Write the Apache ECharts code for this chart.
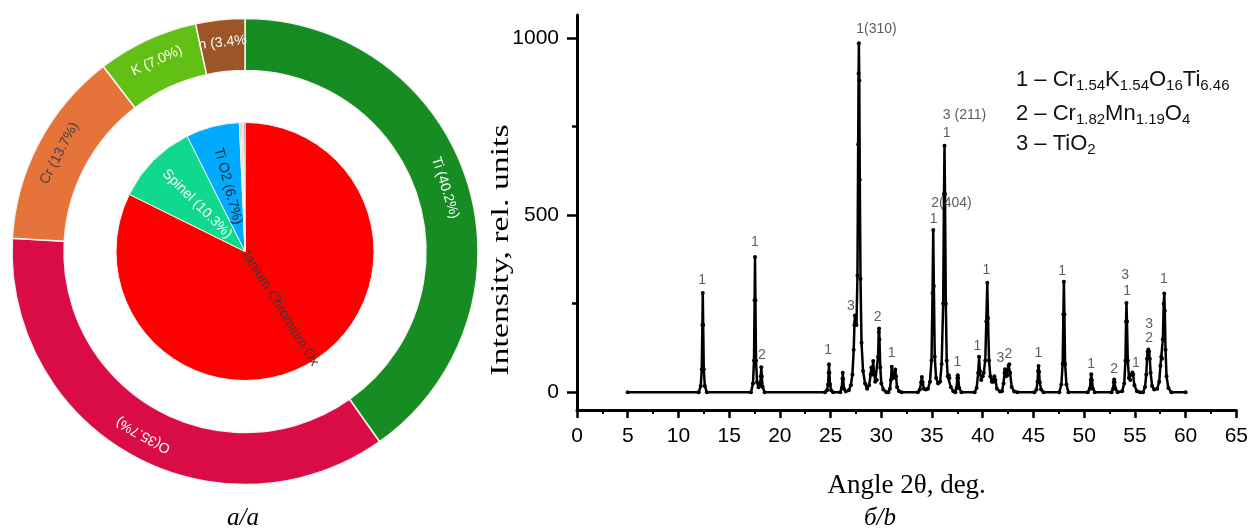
<!DOCTYPE html>
<html><head><meta charset="utf-8">
<script src="https://cdn.jsdelivr.net/npm/echarts@6/dist/echarts.min.js"></script>
<style>html,body{margin:0;padding:0;background:#fff}#c{width:1251px;height:532px}</style>
</head><body><div id="c"></div>
<script>
// ---- panel a: element composition (outer ring) and phase composition (inner pie)
const ringNames  = ['Ti', 'O', 'Cr', 'K', 'Mn'];
const ringValues = [40.2, 35.7, 13.7, 7.0, 3.4];
const ringLabels = ['Ti (40.2%)', 'O(35.7%)', 'Cr (13.7%)', 'K (7.0%)', 'n (3.4%'];
const ringColors = ['#168c22', '#da0c46', '#e5733a', '#62c014', '#9c5526'];
const ringLabelColors = ['#ffffff', '#ffffff', '#444444', '#ffffff', '#ffffff'];

const phaseNames  = ['Titanium Chromium Oxide', 'Spinel', 'TiO2', 'minor a', 'minor b', 'minor c', 'minor d'];
const phaseValues = [82.3, 10.3, 6.7, 0.2, 0.2, 0.15, 0.15];
const phaseLabels = ['tanium Chromium Ox', 'Spinel (10.3%)', 'Ti O2 (6.7%)', '', '', '', ''];
const phaseColors = ['#ff0000', '#10d98f', '#00aaff', '#f0a830', '#c8b070', '#8090b0', '#404870'];
const phaseLabelColors = ['#3a3a3a', '#ffffff', '#262636', '#000', '#000', '#000', '#000'];

// ---- panel b: XRD pattern [2theta, intensity]
const xrdPoints = [
 [5,0],
 [12.0,0],[12.2,18],[12.3,65],[12.36,190],[12.4,280],[12.44,190],[12.5,65],[12.6,18],[12.8,0],
 [17.15,0],[17.35,25],[17.45,90],[17.51,260],[17.55,382],[17.59,260],[17.65,90],[17.75,28],[17.9,14],
 [18.05,20],[18.12,45],[18.17,71],[18.22,45],[18.3,15],[18.5,0],
 [24.45,0],[24.65,6],[24.75,22],[24.81,55],[24.84,79],[24.88,55],[24.95,22],[25.05,6],[25.25,0],
 [25.95,0],[26.1,12],[26.17,38],[26.2,55],[26.24,38],[26.32,10],[26.5,2],
 [26.8,6],[27.0,20],[27.15,50],[27.28,120],[27.35,190],[27.4,217],[27.46,200],[27.55,190],[27.65,330],[27.72,700],[27.76,900],[27.79,985],[27.83,880],[27.88,600],[27.95,320],[28.05,140],[28.2,60],[28.4,25],[28.6,10],
 [28.8,20],[28.95,50],[29.02,70],[29.1,50],[29.2,88],[29.28,55],[29.4,30],[29.55,35],[29.68,100],[29.75,170],[29.78,180],[29.82,150],[29.9,70],[30.0,25],[30.2,8],[30.5,0],
 [30.7,0],[30.85,10],[30.95,35],[31.03,72],[31.1,45],[31.2,40],[31.3,55],[31.38,64],[31.45,45],[31.55,15],[31.75,3],[32.0,0],
 [33.6,0],[33.8,8],[33.93,28],[34.0,43],[34.07,28],[34.2,10],[34.4,8],
 [34.6,10],[34.8,30],[34.95,90],[35.05,280],[35.12,458],[35.18,300],[35.27,100],[35.4,40],[35.6,25],[35.8,30],
 [35.95,80],[36.1,250],[36.18,560],[36.23,696],[36.28,560],[36.36,250],[36.45,90],[36.55,45],[36.65,48],[36.72,40],[36.85,15],[37.1,3],
 [37.3,0],[37.42,12],[37.5,40],[37.54,48],[37.58,40],[37.68,12],[37.9,0],
 [39.2,0],[39.4,12],[39.55,55],[39.64,100],[39.72,60],[39.85,35],[40.0,45],[40.1,55],[40.25,90],[40.35,200],[40.45,309],[40.52,210],[40.62,90],[40.75,45],[40.9,30],[41.05,30],[41.15,45],[41.25,35],[41.4,10],[41.7,2],
 [41.9,3],[42.05,25],[42.15,55],[42.2,65],[42.3,45],[42.42,48],[42.55,75],[42.62,79],[42.7,55],[42.85,15],[43.1,2],[43.4,0],
 [45.1,0],[45.3,8],[45.4,30],[45.46,60],[45.5,74],[45.55,58],[45.62,28],[45.75,8],[46.0,0],
 [47.55,0],[47.75,22],[47.88,80],[47.95,220],[48.0,312],[48.05,220],[48.12,80],[48.25,22],[48.45,0],
 [50.35,0],[50.55,10],[50.65,35],[50.7,51],[50.76,35],[50.86,10],[51.05,0],
 [52.7,0],[52.85,10],[52.92,28],[52.96,36],[53.0,28],[53.08,10],[53.3,0],
 [53.75,3],[53.95,25],[54.07,90],[54.13,200],[54.17,252],[54.22,200],[54.3,90],[54.42,40],[54.55,35],[54.68,50],[54.76,56],[54.82,50],[54.95,20],[55.2,3],[55.5,0],
 [55.8,0],[56.0,15],[56.12,50],[56.2,95],[56.26,115],[56.33,121],[56.4,115],[56.47,95],[56.55,55],[56.7,18],[56.9,8],
 [57.2,10],[57.4,30],[57.52,75],[57.6,100],[57.68,95],[57.76,150],[57.84,250],[57.9,279],[57.95,230],[58.02,120],[58.12,45],[58.3,12],[58.6,0],
 [60,0]
];

// peak annotations (phase index / hkl) placed in data coordinates
const annoAngle     = [12.34, 17.55, 18.24, 24.76, 27.0, 29.65, 31.02, 29.53, 36.92, 35.15, 38.2, 36.43, 37.51, 39.48, 40.36, 41.74, 42.53, 45.48, 47.84, 50.69, 52.95, 54.03, 54.23, 55.11, 56.4, 56.4, 57.87];
const annoIntensity = [317, 424, 106, 120, 244, 213, 110, 1025, 534, 489, 782, 731, 86, 131, 345, 97, 108, 111, 342, 80, 66, 331, 286, 83, 193, 154, 320];
const annoText      = ['1','1','2','1','3','2','1','1(310)','2(404)','1','3 (211)','1','1','1','1','3','2','1','1','1','2','3','1','1','3','2','1'];

const xTicks = {min: 0, max: 65, interval: 5};
const yMajorTicks = [0, 500, 1000];
const yMinorTicks = [250, 750];

const legendLines = [
  '{m|1 – Cr}{s|1.54}{m|K}{s|1.54}{m|O}{s|16}{m|Ti}{s|6.46}',
  '{m|2 – Cr}{s|1.82}{m|Mn}{s|1.19}{m|O}{s|4}',
  '{m|3 – TiO}{s|2}'
];

// label rotations derived from the slice angles (clockwise from top)
function midAngles(vals) {
  const tot = vals.reduce((a, b) => a + b, 0);
  let cum = 0;
  return vals.map(v => { const m = (cum + v / 2) / tot * 360; cum += v; return m; });
}
const ringMid = midAngles(ringValues);
const phaseMid = midAngles(phaseValues);

const SANS = "'Liberation Sans', Arial, sans-serif";
const SERIF = "'Liberation Serif', 'Times New Roman', serif";

const ringData = ringNames.map((n, i) => ({
  name: n, value: ringValues[i],
  itemStyle: {color: ringColors[i]},
  label: {formatter: ringLabels[i], color: ringLabelColors[i], rotate: -ringMid[i]}
}));
const phaseData = phaseNames.map((n, i) => {
  let r = phaseMid[i] - 90;
  if (r > 90) r -= 180;
  return {
    name: n, value: phaseValues[i],
    itemStyle: {color: phaseColors[i]},
    label: {show: phaseLabels[i] !== '', formatter: phaseLabels[i], color: phaseLabelColors[i], rotate: -r}
  };
});

const chart = echarts.init(document.getElementById('c'), null, {renderer: 'canvas'});
chart.setOption({
  animation: false,
  backgroundColor: '#ffffff',
  grid: {left: 577, top: 15, width: 661, height: 395, containLabel: false},
  xAxis: {
    type: 'value', min: xTicks.min, max: xTicks.max, interval: xTicks.interval,
    axisLine: {show: true, onZero: false, lineStyle: {color: '#000', width: 3}},
    axisTick: {show: true, inside: false, length: 8, lineStyle: {color: '#000', width: 2.5}},
    minorTick: {show: true, splitNumber: 2, length: 4, lineStyle: {color: '#000', width: 2}},
    axisLabel: {color: '#000', fontSize: 21, fontFamily: SANS, margin: 16},
    splitLine: {show: false}, minorSplitLine: {show: false},
    name: 'Angle 2θ, deg.', nameLocation: 'middle', nameGap: 62,
    nameTextStyle: {color: '#000', fontSize: 27, fontFamily: SERIF}
  },
  yAxis: [{
    type: 'value', min: -50, max: 1065,
    axisLine: {show: true, onZero: false, lineStyle: {color: '#000', width: 3}},
    axisTick: {show: true, inside: false, length: 10, customValues: yMajorTicks, lineStyle: {color: '#000', width: 2.5}},
    axisLabel: {color: '#000', fontSize: 21, fontFamily: SANS, margin: 18, customValues: yMajorTicks, formatter: v => String(v)},
    splitLine: {show: false}
  }, {
    type: 'value', min: -50, max: 1065, position: 'left',
    axisLine: {show: false},
    axisTick: {show: true, inside: false, length: 5, customValues: yMinorTicks, lineStyle: {color: '#000', width: 2.5}},
    axisLabel: {show: false},
    splitLine: {show: false}
  }],
  series: [{
    type: 'pie', center: [245, 251.5], radius: [0, 129], startAngle: 90, clockwise: true,
    silent: true, avoidLabelOverlap: false,
    itemStyle: {borderColor: '#f4f4f4', borderWidth: 1},
    label: {show: true, position: 'inside', fontSize: 14, fontFamily: SANS, align: 'center', verticalAlign: 'middle'},
    labelLine: {show: false},
    emphasis: {disabled: true},
    data: phaseData
  }, {
    type: 'pie', center: [245, 251.5], radius: [181, 233], startAngle: 90, clockwise: true,
    silent: true, avoidLabelOverlap: false,
    itemStyle: {borderColor: '#f4f4f4', borderWidth: 1.5},
    label: {show: true, position: 'inside', fontSize: 14, fontFamily: SANS, align: 'center', verticalAlign: 'middle'},
    labelLine: {show: false},
    emphasis: {disabled: true},
    data: ringData
  }, {
    type: 'line', xAxisIndex: 0, yAxisIndex: 0,
    data: xrdPoints,
    symbol: 'circle', symbolSize: 4, showSymbol: true, showAllSymbol: true,
    lineStyle: {color: '#000', width: 2.5},
    itemStyle: {color: '#000'},
    silent: true, z: 3
  }, {
    type: 'scatter', xAxisIndex: 0, yAxisIndex: 0,
    data: annoAngle.map((a, i) => ({value: [a, annoIntensity[i]], label: {formatter: annoText[i]}})),
    symbolSize: 0, silent: true, z: 4,
    label: {show: true, position: 'inside', color: '#333', fontSize: 14, fontFamily: SANS}
  }],
  graphic: [
    ...legendLines.map((t, i) => ({
      type: 'text', x: 1016, y: [67, 101, 131][i],
      style: {
        text: t, fill: '#111',
        rich: {
          m: {fontSize: 22, fontFamily: SANS, lineHeight: 26, verticalAlign: 'middle', fill: '#111'},
          s: {fontSize: 15, fontFamily: SANS, lineHeight: 8, verticalAlign: 'bottom', fill: '#111'}
        }
      }
    })),
    {type: 'text', x: 501, y: 250, rotation: Math.PI / 2, scaleX: 1.3,
     style: {text: 'Intensity, rel. units', fill: '#000', font: "26px 'Liberation Serif'", align: 'center', verticalAlign: 'middle'}},
    {type: 'text', x: 243, y: 518,
     style: {text: 'a/a', fill: '#000', font: "italic 25px 'Liberation Serif'", align: 'center', verticalAlign: 'middle'}},
    {type: 'text', x: 880, y: 518,
     style: {text: 'б/b', fill: '#000', font: "italic 25px 'Liberation Serif'", align: 'center', verticalAlign: 'middle'}}
  ]
});
</script></body></html>
